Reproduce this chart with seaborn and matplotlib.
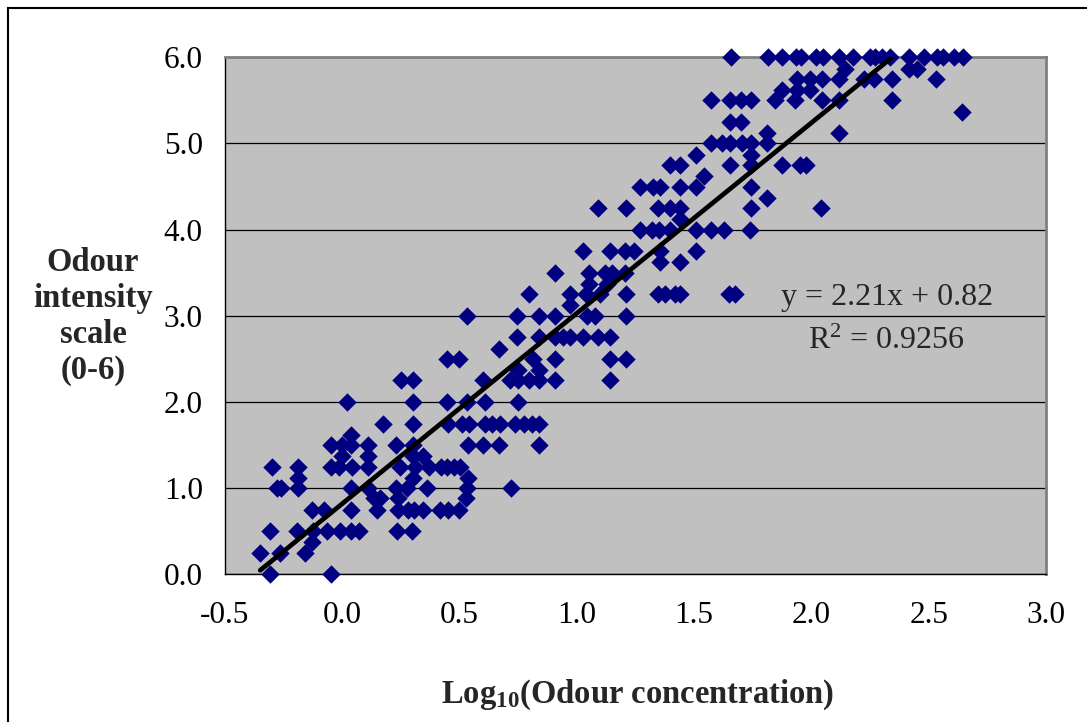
import numpy as np
import matplotlib
matplotlib.use("Agg")
import matplotlib.pyplot as plt
from matplotlib.patches import Rectangle
import seaborn as sns

# Panel data: log10 odour concentration vs odour intensity (0-6)
log_conc = [
    -0.307, -0.047,
    -0.35, -0.264, -0.16,
    -0.127,
    -0.307, -0.193, -0.125, -0.065, -0.01, 0.037, 0.072, 0.233, 0.297,
    -0.127, -0.077, 0.037, 0.148, 0.236, 0.28, 0.304, 0.345, 0.418, 0.45, 0.496,
    0.135, 0.162, 0.236, 0.528,
    -0.28, -0.26, -0.19, 0.037, 0.11, 0.23, 0.276, 0.36, 0.53, 0.72,
    -0.19, 0.30, 0.534,
    -0.30, -0.19, -0.047, -0.016, 0.04, 0.11, 0.247, 0.31, 0.368, 0.42, 0.446, 0.475, 0.503,
    0.0, 0.11, 0.30, 0.342,
    -0.047, 0.0, 0.038, 0.11, 0.229, 0.30, 0.534, 0.60, 0.669, 0.837,
    0.038,
    0.172, 0.30, 0.45, 0.51, 0.54, 0.607, 0.638, 0.673, 0.737, 0.773, 0.81, 0.837,
    0.02, 0.30, 0.446, 0.53, 0.607, 0.75,
    0.25, 0.30, 0.60, 0.716, 0.75, 0.794, 0.837, 0.908, 1.14,
    0.75, 0.837,
    0.446, 0.496, 0.815, 0.908, 1.14, 1.209,
    0.667,
    0.745, 0.837, 0.908, 0.94, 0.972, 1.028, 1.09, 1.14,
    0.53, 0.745, 0.837, 0.908, 1.045, 1.078, 1.209,
    0.969,
    0.794, 0.969, 1.04, 1.10, 1.209, 1.348, 1.377, 1.42, 1.44, 1.647, 1.675,
    1.053, 1.128,
    0.908, 1.05, 1.12, 1.15, 1.206,
    1.355, 1.438,
    1.028, 1.14, 1.206, 1.242, 1.355, 1.51,
    1.27, 1.32, 1.35, 1.395, 1.51, 1.573, 1.628, 1.74,
    1.44,
    1.092, 1.209, 1.348, 1.395, 1.44, 1.742, 2.04,
    1.81,
    1.27, 1.324, 1.353, 1.438, 1.51, 1.742,
    1.543,
    1.395, 1.438, 1.654, 1.742, 1.874, 1.952, 1.978,
    1.51, 1.742,
    1.573, 1.62, 1.654, 1.704, 1.742, 1.81,
    1.81, 2.116,
    1.654, 1.70,
    2.64,
    1.573, 1.654, 1.70, 1.742, 1.846, 1.928, 2.045, 2.116, 2.343,
    1.874, 1.938, 1.995,
    1.938, 1.995, 2.045, 2.116, 2.222, 2.265, 2.343, 2.532,
    2.144, 2.414, 2.45,
    1.658, 1.813, 1.874, 1.935, 1.957, 2.02, 2.05, 2.116, 2.177, 2.248,
    2.272, 2.30, 2.333, 2.414, 2.478, 2.535, 2.563, 2.606, 2.646,
]
intensity = (
    [0.0] * 2 + [0.25] * 3 + [0.37] * 1 + [0.5] * 9 + [0.75] * 11 + [0.88] * 4
    + [1.0] * 10 + [1.12] * 3 + [1.25] * 13 + [1.37] * 4 + [1.5] * 10
    + [1.62] * 1 + [1.75] * 12 + [2.0] * 6 + [2.25] * 9 + [2.37] * 2
    + [2.5] * 6 + [2.62] * 1 + [2.75] * 8 + [3.0] * 7 + [3.12] * 1
    + [3.25] * 11 + [3.37] * 2 + [3.5] * 5 + [3.62] * 2 + [3.75] * 6
    + [4.0] * 8 + [4.12] * 1 + [4.25] * 7 + [4.37] * 1 + [4.5] * 6
    + [4.62] * 1 + [4.75] * 7 + [4.87] * 2 + [5.0] * 6 + [5.12] * 2
    + [5.25] * 2 + [5.37] * 1 + [5.5] * 9 + [5.62] * 3 + [5.75] * 8
    + [5.87] * 3 + [6.0] * 19
)

# Trendline as printed on the chart
slope = 2.21
intercept = 0.82
r_squared = 0.9256

x_ticks = [-0.5, 0.0, 0.5, 1.0, 1.5, 2.0, 2.5, 3.0]
y_ticks = [0.0, 1.0, 2.0, 3.0, 4.0, 5.0, 6.0]

sns.set_style("white")
plt.rcParams['font.family'] = ['Liberation Serif', 'DejaVu Serif']
plt.rcParams['mathtext.fontset'] = 'custom'
plt.rcParams['mathtext.rm'] = 'Liberation Serif'
plt.rcParams['mathtext.bf'] = 'Liberation Serif:bold'
plt.rcParams['mathtext.it'] = 'Liberation Serif:italic'

W, H = 1087, 722
fig = plt.figure(figsize=(W / 100, H / 100), dpi=100)
fig.patch.set_facecolor('white')
ax = fig.add_axes([225 / W, 1 - 574.3 / H, (1046 - 225) / W, (574.3 - 57.3) / H])
ax.set_facecolor('#C0C0C0')

sns.scatterplot(x=log_conc, y=intensity, marker='D', s=88, color='#000080',
                linewidth=0, ax=ax, clip_on=False, zorder=3)

# trendline runs from the smallest x up to where it meets the 6.0 ceiling
x0 = min(log_conc)
x1 = min(max(log_conc), (y_ticks[-1] - intercept) / slope)
line_x = np.array([x0, x1])
sns.lineplot(x=line_x, y=slope * line_x + intercept, color='black', linewidth=3.4,
             ax=ax, zorder=4)

ax.set_xlim(x_ticks[0], x_ticks[-1])
ax.set_ylim(y_ticks[0], y_ticks[-1])
ax.set_xticks(x_ticks)
ax.set_yticks(y_ticks)
ax.set_xticklabels([f"{v:.1f}" for v in x_ticks])
ax.set_yticklabels([f"{v:.1f}" for v in y_ticks])
ax.tick_params(axis='both', direction='out', length=7, width=1, color='black',
               labelsize=22.5, labelcolor='black')
ax.tick_params(axis='x', pad=12)
ax.tick_params(axis='y', pad=9)

ax.grid(axis='y', color='black', linewidth=0.9)
ax.grid(axis='x', visible=False)
ax.set_axisbelow(True)

for side in ['top', 'right']:
    ax.spines[side].set_color('#808080')
    ax.spines[side].set_linewidth(2)
for side in ['left', 'bottom']:
    ax.spines[side].set_color('black')
    ax.spines[side].set_linewidth(1)

ax.set_xlabel(r"Log$_\mathbf{10}$(Odour concentration)", fontsize=23.5, fontweight='bold')
ax.xaxis.set_label_coords((637.5 - 225) / 821, (574.3 - 678) / 517)
ax.set_ylabel("Odour\nintensity\nscale\n(0-6)", fontsize=23.5, fontweight='bold',
              rotation=0, ha='center', va='center', linespacing=1.2)
ax.yaxis.set_label_coords((93 - 225) / 821, (574.3 - 316.7) / 517)

ax.text((886.7 - 225) / 821, (574.3 - 298) / 517,
        f"y = {slope:.2f}x + {intercept:.2f}", transform=ax.transAxes,
        ha='center', va='center', fontsize=23, zorder=5)
ax.text((886.5 - 225) / 821, (574.3 - 341.7) / 517,
        f"R$^{{2}}$ = {r_squared:.4f}", transform=ax.transAxes,
        ha='center', va='center', fontsize=23, zorder=5)

# outer chart frame (only its top and left edges fall inside the picture)
fig.add_artist(Rectangle((8 / W, -0.1), 1.2, (1 - 8 / H) + 0.1,
                         transform=fig.transFigure, fill=False,
                         edgecolor='black', linewidth=1.5))

fig.savefig('out.png', dpi=100)
plt.close(fig)
